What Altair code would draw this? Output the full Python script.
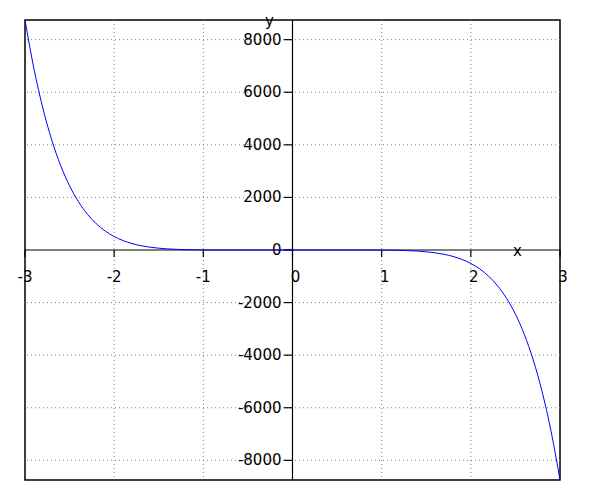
import altair as alt
import pandas as pd

# curve samples
x_vals = [-3.0, -2.9, -2.8, -2.7, -2.6, -2.5, -2.4, -2.3, -2.2, -2.1,
          -2.0, -1.9, -1.8, -1.7, -1.6, -1.5, -1.4, -1.3, -1.2, -1.1,
          -1.0, -0.9, -0.8, -0.7, -0.6, -0.5, -0.4, -0.3, -0.2, -0.1,
          0.0, 0.1, 0.2, 0.3, 0.4, 0.5, 0.6, 0.7, 0.8, 0.9,
          1.0, 1.1, 1.2, 1.3, 1.4, 1.5, 1.6, 1.7, 1.8, 1.9,
          2.0, 2.1, 2.2, 2.3, 2.4, 2.5, 2.6, 2.7, 2.8, 2.9, 3.0]
y_vals = [8748, 6900, 5397, 4184, 3213, 2441, 1835, 1362, 998, 720,
          512, 358, 245, 164, 107, 68, 42, 25, 14, 8,
          4, 2, 1, 0.3, 0.1, 0, 0, 0, 0, 0,
          0, 0, 0, 0, 0, 0, -0.1, -0.3, -1, -2,
          -4, -8, -14, -25, -42, -68, -107, -164, -245, -358,
          -512, -720, -998, -1362, -1835, -2441, -3213, -4184, -5397, -6900, -8748]

x_ticks = [-3, -2, -1, 0, 1, 2, 3]
x_tick_labels = ["-3", "-2", "-1", "0", "1", "2", "3"]
y_ticks = [-8000, -6000, -4000, -2000, 0, 2000, 4000, 6000, 8000]
y_tick_labels = ["-8000", "-6000", "-4000", "-2000", "0", "2000", "4000", "6000", "8000"]
x_grid = [-2, -1, 1, 2]
y_grid = [-8000, -6000, -4000, -2000, 2000, 4000, 6000, 8000]

FONT = "DejaVu Sans"
xs = alt.Scale(domain=[-3, 3], nice=False, zero=False)
ys = alt.Scale(domain=[-8748, 8748], nice=False, zero=False)

curve_df = pd.DataFrame({"x": x_vals, "y": y_vals})
gx_df = pd.DataFrame({"gx": x_grid})
gy_df = pd.DataFrame({"gy": y_grid})
xt_df = pd.DataFrame({"v": x_ticks, "lab": x_tick_labels})
yt_df = pd.DataFrame({"v": y_ticks, "lab": y_tick_labels})
one = pd.DataFrame({"k": [0]})

grid_v = alt.Chart(gx_df).mark_rule(color="#808080", strokeDash=[1, 3], strokeWidth=1).encode(
    x=alt.X("gx:Q", scale=xs, axis=None))
grid_h = alt.Chart(gy_df).mark_rule(color="#808080", strokeDash=[1, 3], strokeWidth=1).encode(
    y=alt.Y("gy:Q", scale=ys, axis=None))

axis_x = alt.Chart(one).mark_rule(color="black", strokeWidth=1.2).encode(
    y=alt.YDatum(0, scale=ys, axis=None))
axis_y = alt.Chart(one).mark_rule(color="black", strokeWidth=1.2).encode(
    x=alt.XDatum(0, scale=xs, axis=None))

xtick_marks = alt.Chart(xt_df).mark_rule(color="black", strokeWidth=1.2).encode(
    x=alt.X("v:Q", scale=xs, axis=None),
    y=alt.YDatum(0, scale=ys, axis=None),
    y2=alt.Y2Datum(-270))
ytick_marks = alt.Chart(yt_df).mark_rule(color="black", strokeWidth=1.2).encode(
    y=alt.Y("v:Q", scale=ys, axis=None),
    x=alt.XDatum(-0.095, scale=xs, axis=None),
    x2=alt.X2Datum(0))

xlab_neg = alt.Chart(xt_df).transform_filter("datum.v < 0").mark_text(
    font=FONT, fontSize=15, color="black", align="center", baseline="middle", dy=27).encode(
    x=alt.X("v:Q", scale=xs, axis=None),
    y=alt.YDatum(0, scale=ys, axis=None),
    text="lab:N")
xlab_pos = alt.Chart(xt_df).transform_filter("datum.v >= 0").mark_text(
    font=FONT, fontSize=15, color="black", align="center", baseline="middle", dy=27, dx=3).encode(
    x=alt.X("v:Q", scale=xs, axis=None),
    y=alt.YDatum(0, scale=ys, axis=None),
    text="lab:N")
ylab = alt.Chart(yt_df).mark_text(
    font=FONT, fontSize=15, color="black", align="right", baseline="middle", dx=-11).encode(
    y=alt.Y("v:Q", scale=ys, axis=None),
    x=alt.XDatum(0, scale=xs, axis=None),
    text="lab:N")

title_x = alt.Chart(one).mark_text(
    font=FONT, fontSize=15, color="black", align="center", baseline="alphabetic", dx=2, dy=6, text="x").encode(
    x=alt.XDatum(2.5, scale=xs, axis=None),
    y=alt.YDatum(0, scale=ys, axis=None))
title_y = alt.Chart(one).mark_text(
    font=FONT, fontSize=15, color="black", align="center", baseline="alphabetic", dx=-23, dy=6, text="y").encode(
    x=alt.XDatum(0, scale=xs, axis=None),
    y=alt.YDatum(8748, scale=ys, axis=None))

curve = alt.Chart(curve_df).mark_line(color="#0000ff", strokeWidth=1, interpolate="monotone", clip=True).encode(
    x=alt.X("x:Q", scale=xs, axis=None),
    y=alt.Y("y:Q", scale=ys, axis=None))

chart = alt.layer(
    grid_v, grid_h, axis_x, axis_y, xtick_marks, ytick_marks,
    xlab_neg, xlab_pos, ylab, title_x, title_y, curve
).properties(
    width=535, height=460, autosize="none",
    padding={"left": 17, "top": 12, "right": 30, "bottom": 10}
).configure_view(stroke="black", strokeWidth=1.5)

chart.save("out.html", embed_options={"renderer": "svg", "actions": False})
